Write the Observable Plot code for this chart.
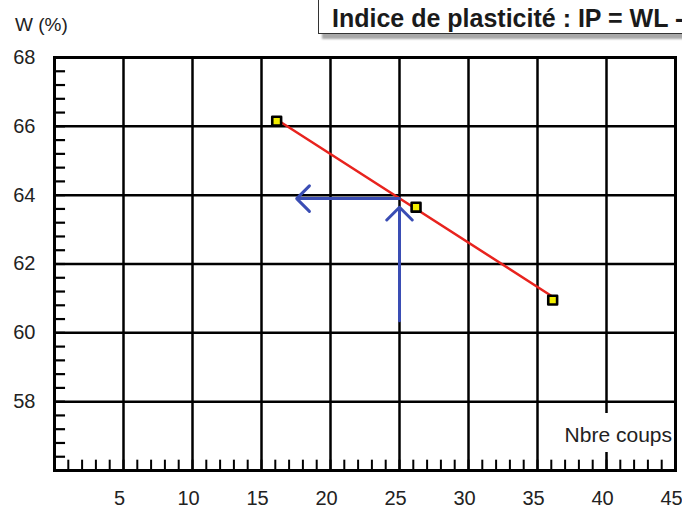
<!DOCTYPE html>
<html>
<head>
<meta charset="utf-8">
<script src="https://cdn.jsdelivr.net/npm/d3@7"></script>
<script src="https://cdn.jsdelivr.net/npm/@observablehq/plot@0.6"></script>
<style>
  html, body { margin: 0; padding: 0; background: #fff; }
  #wrap { position: relative; width: 682px; height: 511px; overflow: hidden; font-family: "Liberation Sans", Arial, sans-serif; color: #222; }
  #chart { position: absolute; left: 0; top: 0; }
  #ylab { position: absolute; left: 15px; top: 15px; font-size: 19px; line-height: 19px; }
  #title { position: absolute; left: 318px; top: -4px; width: 380px; height: 38px; box-sizing: border-box;
           border: 1.5px solid #333; background: #fff; box-shadow: 4px 5px 2px #a8a8a8;
           padding: 9px 0 0 13px; font-size: 25px; line-height: 24px; font-weight: bold; color: #1a1a1a; white-space: nowrap; }
  #xlab { position: absolute; left: 555px; top: 413px; width: 117px; height: 39px; background: #fff;
          box-sizing: border-box; padding-top: 12px; text-align: right; font-size: 21px; line-height: 20px; white-space: nowrap; }
</style>
</head>
<body>
<div id="wrap">
  <div id="chart"></div>
  <div id="ylab">W (%)</div>
  <div id="title">Indice de plasticité : IP = WL -</div>
  <div id="xlab">Nbre coups</div>
</div>
<script>
// Data
const coups = [16.1, 26.2, 36.1];          // number of blows (x)
const teneur = [66.15, 63.65, 60.95];      // water content W (%)
const droiteX = [16.1, 36.1];              // red fitted line
const droiteY = [66.2, 61.05];
const flecheVert = {x: 25, yFrom: 60.35, yTo: 63.65};   // blue vertical arrow
const flecheHoriz = {y: 63.9, xFrom: 25, xTo: 17.55};   // blue horizontal arrow
const xTicks = [5, 10, 15, 20, 25, 30, 35, 40, 45];
const yTicks = [58, 60, 62, 64, 66, 68];
const xMinor = d3.range(1, 45);
const yMinor = d3.range(0, 30).map(i => +(56 + i * 0.4).toFixed(1));

const points = coups.map((c, i) => ({x: c, y: teneur[i]}));
const droite = droiteX.map((c, i) => ({x: c, y: droiteY[i]}));
const fleches = [
  {x1: flecheVert.x, y1: flecheVert.yFrom, x2: flecheVert.x, y2: flecheVert.yTo},
  {x1: flecheHoriz.xFrom, y1: flecheHoriz.y, x2: flecheHoriz.xTo, y2: flecheHoriz.y}
];

const chart = Plot.plot({
  width: 682,
  height: 511,
  marginTop: 57,
  marginBottom: 41,
  marginLeft: 54,
  marginRight: 7,
  style: {fontFamily: "'Liberation Sans', Arial, sans-serif", fontSize: "20px", color: "#222", background: "transparent"},
  x: {domain: [0, 45], label: null},
  y: {domain: [56, 68], label: null},
  marks: [
    Plot.axisX(xTicks, {tickSize: 0, tickPadding: 20, dx: -4, label: null}),
    Plot.axisY(yTicks, {tickSize: 0, tickPadding: 19, label: null}),
    Plot.gridX(xTicks, {stroke: "#000", strokeOpacity: 1, strokeWidth: 2.5}),
    Plot.gridY(yTicks, {stroke: "#000", strokeOpacity: 1, strokeWidth: 2.5}),
    Plot.ruleX(xMinor, {y1: 56, y2: 56.3, stroke: "#000", strokeWidth: 2}),
    Plot.ruleY(yMinor, {x1: 0, x2: 0.8, stroke: "#000", strokeWidth: 2.2}),
    Plot.frame({stroke: "#000", strokeWidth: 3}),
    Plot.line(droite, {x: "x", y: "y", stroke: "#e8231e", strokeWidth: 2.5}),
    Plot.arrow(fleches, {x1: "x1", y1: "y1", x2: "x2", y2: "y2", stroke: "#3a4db4", strokeWidth: 3, headLength: 9, headAngle: 90, bend: 0}),
    Plot.dot(points, {x: "x", y: "y", symbol: "square", r: 5, fill: "#f2ee00", stroke: "#000", strokeWidth: 2.6, strokeLinejoin: "round"})
  ]
});
document.getElementById("chart").appendChild(chart);
</script>
</body>
</html>
